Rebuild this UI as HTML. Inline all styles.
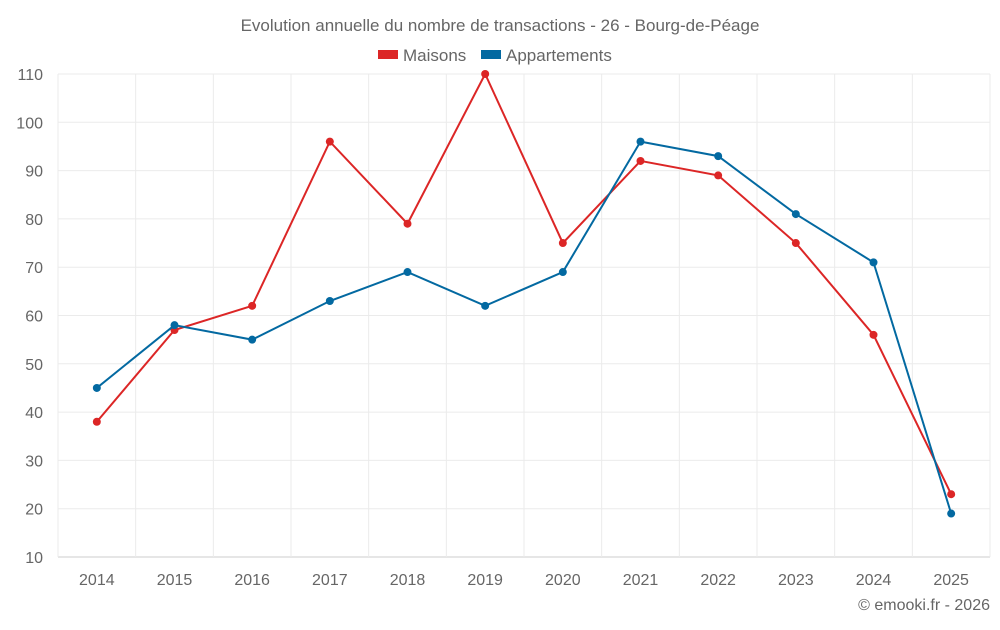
<!DOCTYPE html>
<html><head><meta charset="utf-8"><style>
body{margin:0;background:#fff;font-family:"Liberation Sans",sans-serif;}
svg text{font-family:"Liberation Sans",sans-serif;fill:#666;}
</style></head><body>
<svg id="c" width="1000" height="625">
<text x="500" y="31" text-anchor="middle" font-size="17">Evolution annuelle du nombre de transactions - 26 - Bourg-de-Péage</text>
<g>
<rect x="378" y="50" width="20" height="9" fill="#dc2626"/>
<text x="403" y="61" font-size="17">Maisons</text>
<rect x="481" y="50" width="20" height="9" fill="#0369a1"/>
<text x="506" y="61" font-size="17">Appartements</text>
</g>
<g id="grid"></g><g id="axes"></g><g id="series"></g>
<text x="990" y="610" text-anchor="end" font-size="16">© emooki.fr - 2026</text>
</svg>
<script>
const years=["2014","2015","2016","2017","2018","2019","2020","2021","2022","2023","2024","2025"];
const maisons=[38,57,62,96,79,110,75,92,89,75,56,23];
const appartements=[45,58,55,63,69,62,69,96,93,81,71,19];
const yTicks=[10,20,30,40,50,60,70,80,90,100,110];
const NS="http://www.w3.org/2000/svg";
const L=58,R=990,T=74,B=557,yMin=10,yMax=110;
const bw=(R-L)/years.length;
const x=i=>L+bw*(i+0.5);
const y=v=>B-(v-yMin)/(yMax-yMin)*(B-T);
function mk(t,a,p){const e=document.createElementNS(NS,t);for(const k in a)e.setAttribute(k,a[k]);p.appendChild(e);return e;}
const grid=document.getElementById('grid'),axes=document.getElementById('axes'),ser=document.getElementById('series');
yTicks.forEach(v=>{
 const l=mk('line',{x1:L,x2:R,y1:y(v),y2:y(v),stroke:v===yMin?'#ccc':'#ebebeb'},grid);
 
 
 const t=mk('text',{x:L-15,y:y(v)+6,'text-anchor':'end','font-size':16},axes);
 t.textContent=v;
 
 
});
for(let i=0;i<=years.length;i++){
 const l=mk('line',{x1:L+bw*i,x2:L+bw*i,y1:T,y2:B+(i===0?0:0),stroke:'#ebebeb'},grid);
 
 
}
years.forEach((yr,i)=>{
 const t=mk('text',{x:x(i),y:585,'text-anchor':'middle','font-size':16},axes);
 t.textContent=yr;
 
 
});
function draw(data,color,name){
 const p=mk('polyline',{points:data.map((v,i)=>x(i)+','+y(v)).join(' '),fill:'none',stroke:color,'stroke-width':2},ser);
 
 
 data.forEach((v,i)=>{
  const c=mk('circle',{cx:x(i),cy:y(v),r:4,fill:color},ser);
  
  
 });
}
draw(maisons,'#dc2626','maisons');
draw(appartements,'#0369a1','appartements');
</script>
</body></html>
